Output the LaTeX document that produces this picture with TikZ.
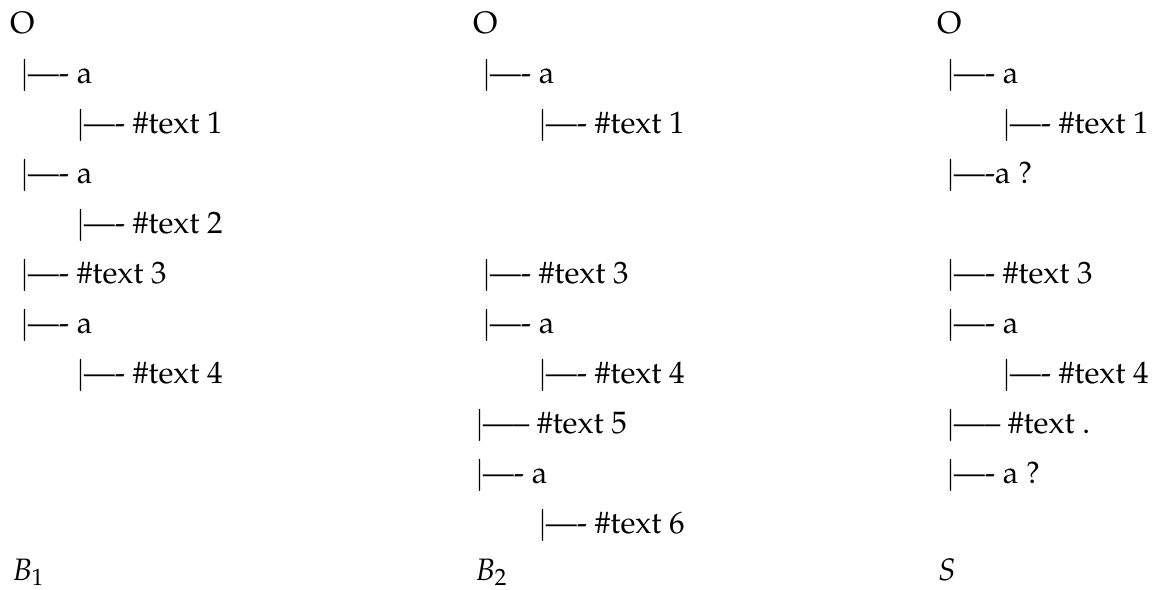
\documentclass[tikz,border=0pt]{standalone}
\usepackage[T1]{fontenc}
\usepackage{mathpazo}
\tikzset{
  txt/.style={anchor=base west, inner sep=0pt, outer sep=0pt, font=\fontsize{31}{38}\selectfont},
}
\newcommand{\ry}[1]{-\the\numexpr 33+50*#1\relax}
\newcommand{\tbar}{$|$\kern-0.06em}
\begin{document}
\begin{tikzpicture}[x=1pt,y=1pt]
\useasboundingbox (0,0) rectangle (1159,-589);
% column 1 (B1)
\node[txt] (a0) at (10,\ry{0}) {O};
\node[txt] (a1) at (20,\ry{1}) {\tbar---{}- a};
\node[txt] (a2) at (76,\ry{2}) {\tbar---{}- \#text 1};
\node[txt] (a3) at (20,\ry{3}) {\tbar---{}- a};
\node[txt] (a4) at (76,\ry{4}) {\tbar---{}- \#text 2};
\node[txt] (a5) at (20,\ry{5}) {\tbar---{}- \#text 3};
\node[txt] (a6) at (20,\ry{6}) {\tbar---{}- a};
\node[txt] (a7) at (76,\ry{7}) {\tbar---{}- \#text 4};
\node[txt] (aL) at (12,-580) {$B_1$};
% column 2 (B2)
\node[txt] (b0) at (473,\ry{0}) {O};
\node[txt] (b1) at (482,\ry{1}) {\tbar---{}- a};
\node[txt] (b2) at (538,\ry{2}) {\tbar---{}- \#text 1};
\node[txt] (b5) at (482,\ry{5}) {\tbar---{}- \#text 3};
\node[txt] (b6) at (482,\ry{6}) {\tbar---{}- a};
\node[txt] (b7) at (538,\ry{7}) {\tbar---{}- \#text 4};
\node[txt] (b8) at (475,\ry{8}) {\tbar----- \#text 5};
\node[txt] (b9) at (475,\ry{9}) {\tbar---{}- a};
\node[txt] (b10) at (538,\ry{10}) {\tbar---{}- \#text 6};
\node[txt] (bL) at (475,-580) {$B_2$};
% column 3 (S)
\node[txt] (c0) at (937,\ry{0}) {O};
\node[txt] (c1) at (946,\ry{1}) {\tbar---{}- a};
\node[txt] (c2) at (1002,\ry{2}) {\tbar---{}- \#text 1};
\node[txt] (c3) at (946,\ry{3}) {\tbar---{}-a ?};
\node[txt] (c5) at (946,\ry{5}) {\tbar---{}- \#text 3};
\node[txt] (c6) at (946,\ry{6}) {\tbar---{}- a};
\node[txt] (c7) at (1002,\ry{7}) {\tbar---{}- \#text 4};
\node[txt] (c8) at (946,\ry{8}) {\tbar----- \#text .};
\node[txt] (c9) at (946,\ry{9}) {\tbar---{}- a ?};
\node[txt] (cL) at (938,-580) {$S$};
\end{tikzpicture}
\end{document}
